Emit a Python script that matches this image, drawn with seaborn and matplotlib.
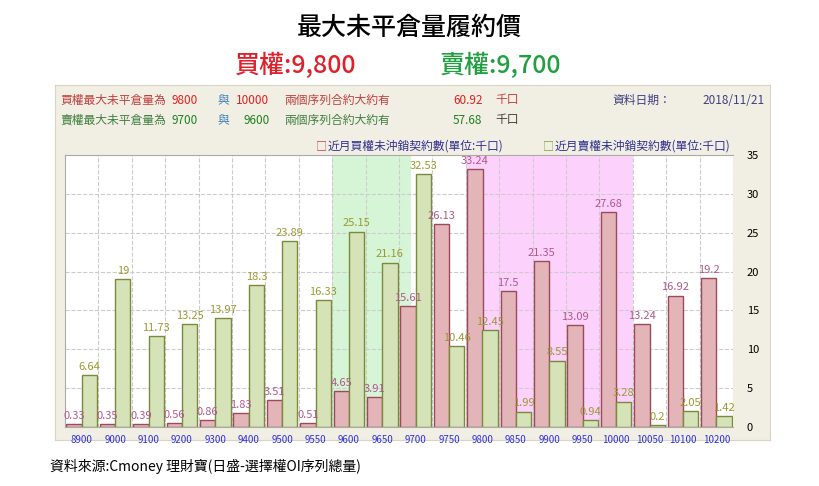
import matplotlib
matplotlib.use("Agg")
import matplotlib.pyplot as plt
from matplotlib import font_manager
import seaborn as sns
import pandas as pd

strikes = ["8900","9000","9100","9200","9300","9400","9500","9550","9600","9650",
           "9700","9750","9800","9850","9900","9950","10000","10050","10100","10200"]
call_oi = [0.33,0.35,0.39,0.56,0.86,1.83,3.51,0.51,4.65,3.91,
           15.61,26.13,33.24,17.5,21.35,13.09,27.68,13.24,16.92,19.2]
put_oi = [6.64,19,11.73,13.25,13.97,18.3,23.89,16.33,25.15,21.16,
          32.53,10.46,12.45,1.99,8.55,0.94,3.28,0.2,2.05,1.42]
call_name = "近月買權未沖銷契約數(單位:千口)"
put_name = "近月賣權未沖銷契約數(單位:千口)"

names = {f.name for f in font_manager.fontManager.ttflist}
cjk = next((n for n in ["Noto Sans CJK TC", "Noto Sans CJK JP", "Noto Sans CJK SC"] if n in names), "DejaVu Sans")
plt.rcParams["font.family"] = cjk
df = pd.DataFrame({"strike": strikes * 2, "oi": call_oi + put_oi,
                   "series": [call_name] * 20 + [put_name] * 20})

fig = plt.figure(figsize=(8.19, 4.86), dpi=100)
W, H = 819, 486
bg = fig.add_axes([55 / W, 1 - 440 / H, 715 / W, 355 / H], zorder=-1)
bg.set_facecolor("#f1efe3"); bg.set_xticks([]); bg.set_yticks([])
for s in bg.spines.values():
    s.set_color("#d8d4c4")
ax = fig.add_axes([65 / W, 1 - 427 / H, 668 / W, 272 / H], zorder=1)
ax.set_facecolor("white")
ax.axvspan(7.5, 9.85, facecolor="#d6f5d6", lw=0, zorder=0)
ax.axvspan(11.5, 16.5, facecolor="#fcd2fc", lw=0, zorder=0)
sns.barplot(data=df, x="strike", y="oi", hue="series", ax=ax, width=0.92,
            palette={call_name: "#e3b4b8", put_name: "#d6e2b8"}, saturation=1, legend=False, zorder=2)
for cont, ec in zip(ax.containers, ["#9a4a5a", "#7a8a3a"]):
    for p in cont:
        p.set_edgecolor(ec); p.set_linewidth(1)
for i in range(20):
    ax.text(i - 0.23, call_oi[i] + 0.4, f"{call_oi[i]:g}", ha="center", va="bottom", fontsize=8, color="#b05a8a", zorder=3)
    ax.text(i + 0.23, put_oi[i] + 0.4, f"{put_oi[i]:g}", ha="center", va="bottom", fontsize=8, color="#9a9a30", zorder=3)
ax.set_xlim(-0.5, 19.5)
ax.set_ylim(0, 35)
ax.yaxis.tick_right()
ax.set_yticks(range(0, 36, 5))
ax.tick_params(axis="y", length=0, labelsize=8, pad=10)
ax.tick_params(axis="x", length=0, labelsize=7, labelcolor="#3030e0", pad=6)
ax.set_xlabel(""); ax.set_ylabel("")
for y in range(5, 35, 5):
    ax.axhline(y, color="#cccccc", ls="--", lw=0.8, zorder=1)
for x in range(20):
    ax.axvline(x + 0.5, color="#cccccc", ls="--", lw=0.8, zorder=1)
for s in ax.spines.values():
    s.set_color("#aaaaaa")
ax.spines["right"].set_visible(False)

fig.text(409 / W, 1 - 28 / H, "最大未平倉量履約價", ha="center", va="center", fontsize=18, weight="medium")
fig.text(235 / W, 1 - 66 / H, "買權:9,800", ha="left", va="center", fontsize=18, color="#e0202a", weight="medium")
fig.text(440 / W, 1 - 66 / H, "賣權:9,700", ha="left", va="center", fontsize=18, color="#20a040", weight="medium")
row = [(60, "買權最大未平倉量為", "#c04040"), (172, "9800", "#e02020"), (218, "與", "#4080c0"),
       (236, "10000", "#e02020"), (284, "兩個序列合約大約有", "#c04040"), (453, "60.92", "#e02020"), (495, "千口", "#c04040")]
for x, t, c in row:
    fig.text(x / W, 1 - 100 / H, t, fontsize=8.5, color=c, va="center")
row2 = [(60, "賣權最大未平倉量為", "#408040"), (172, "9700", "#208020"), (218, "與", "#4080c0"),
        (244, "9600", "#208020"), (284, "兩個序列合約大約有", "#408040"), (453, "57.68", "#208020"), (495, "千口", "#404040")]
for x, t, c in row2:
    fig.text(x / W, 1 - 120 / H, t, fontsize=8.5, color=c, va="center")
fig.text(612 / W, 1 - 100 / H, "資料日期：", fontsize=8.5, color="#404080", va="center")
fig.text(765 / W, 1 - 100 / H, "2018/11/21", fontsize=8.5, color="#404080", va="center", ha="right")
fig.text(316 / W, 1 - 146 / H, "□", fontsize=8, color="#c04060", va="center")
fig.text(328 / W, 1 - 146 / H, call_name, fontsize=8.5, color="#303090", va="center")
fig.text(543 / W, 1 - 146 / H, "□", fontsize=8, color="#80a030", va="center")
fig.text(555 / W, 1 - 146 / H, put_name, fontsize=8.5, color="#303090", va="center")
fig.text(50 / W, 1 - 466 / H, "資料來源:Cmoney 理財寶(日盛-選擇權OI序列總量)", fontsize=10, va="center")
fig.savefig("out.png", dpi=100, facecolor="white")
